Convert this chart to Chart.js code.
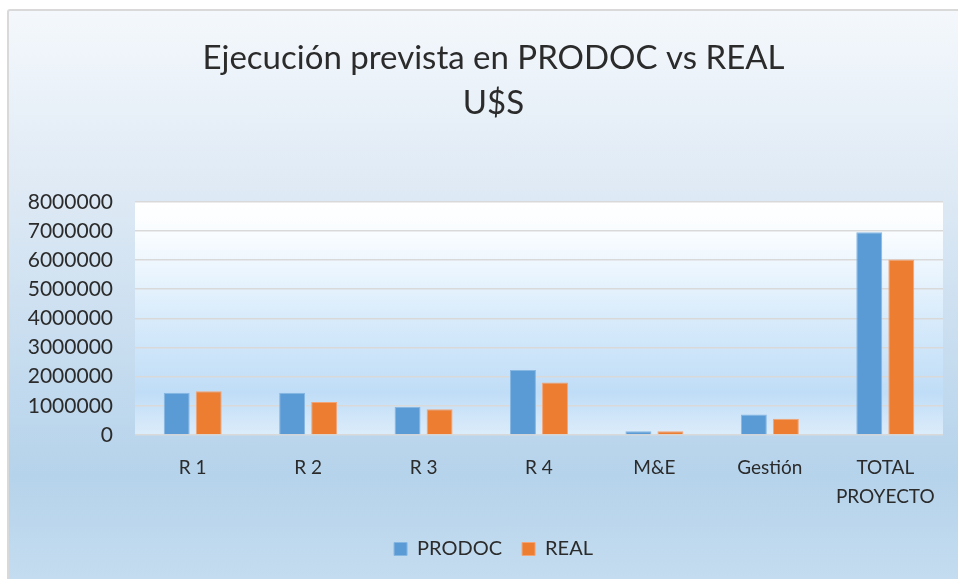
<!DOCTYPE html>
<html>
<head>
<meta charset="utf-8">
<script src="https://cdn.jsdelivr.net/npm/chart.js@4/dist/chart.umd.min.js"></script>
<style>
  html, body { margin: 0; padding: 0; background: #ffffff; }
  #frame {
    position: absolute; left: 7px; top: 9px; width: 960px; height: 580px;
    border: 2px solid #d9d9d9; border-radius: 3px;
    background: linear-gradient(to bottom, #f4f8fc 0%, #dfeaf5 30%, #c6dcef 60%, #b5d3eb 80%, #c6ddf0 100%);
  }
  #wrap { position: absolute; left: 0; top: 0; width: 958px; height: 579px; }
</style>
</head>
<body>
<div id="frame"></div>
<div id="wrap"><canvas id="chart" width="958" height="579"></canvas></div>
<script>
// Données
const categories = ['R 1', 'R 2', 'R 3', 'R 4', 'M&E', 'Gestión', ['TOTAL', 'PROYECTO']];
const prodocValues = [1450000, 1450000, 960000, 2230000, 130000, 700000, 6950000];
const realValues = [1500000, 1130000, 880000, 1800000, 130000, 560000, 6020000];
const yMax = 8000000;
const yStep = 1000000;

const FONT = 'Lato';
const TEXT = '#2b2b2b';
const Y_FONT_SIZE = 21;

const ctx = document.getElementById('chart').getContext('2d');

// Largeur de l'étiquette la plus large de l'axe Y (pour les aligner à droite)
ctx.font = Y_FONT_SIZE + 'px ' + FONT;
const widestY = ctx.measureText(String(yMax)).width;

// Fond dégradé de la zone de tracé
const plotBackground = {
    id: 'plotBackground',
    beforeDraw(chart) {
        const { ctx, chartArea: a } = chart;
        const g = ctx.createLinearGradient(0, a.top, 0, a.bottom);
        g.addColorStop(0, '#ffffff');
        g.addColorStop(0.15, '#f8fcff');
        g.addColorStop(0.5, '#d8ebfb');
        g.addColorStop(0.82, '#c0ddf7');
        g.addColorStop(1, '#dcecfa');
        ctx.save();
        ctx.fillStyle = g;
        ctx.fillRect(a.left, a.top, a.right - a.left, a.bottom - a.top);
        ctx.restore();
    }
};

new Chart(ctx, {
    type: 'bar',
    data: {
        labels: categories,
        datasets: [
            {
                label: 'PRODOC',
                data: prodocValues,
                backgroundColor: '#5b9bd5',
                borderColor: '#86b6e2',
                borderWidth: 1,
                barPercentage: 0.81,
                categoryPercentage: 0.555
            },
            {
                label: 'REAL',
                data: realValues,
                backgroundColor: '#ed7d31',
                borderColor: '#f2a476',
                borderWidth: 1,
                barPercentage: 0.81,
                categoryPercentage: 0.555
            }
        ]
    },
    options: {
        responsive: false,
        animation: false,
        layout: { padding: { left: 44, right: 15, top: 0, bottom: 10 } },
        plugins: {
            title: {
                display: true,
                text: ['Ejecución prevista en PRODOC vs REAL', 'U$S'],
                color: TEXT,
                font: { family: FONT, size: 33, weight: 'normal', lineHeight: 1.36 },
                padding: { top: 36, bottom: 76 }
            },
            legend: {
                position: 'bottom',
                labels: {
                    color: TEXT,
                    font: { family: FONT, size: 20 },
                    boxWidth: 13,
                    boxHeight: 13,
                    padding: 20
                }
            },
            tooltip: { enabled: false }
        },
        scales: {
            x: {
                grid: { display: false },
                border: { display: false },
                ticks: {
                    color: TEXT,
                    font: { family: FONT, size: 19, lineHeight: 1.5 },
                    padding: 11,
                    maxRotation: 0,
                    autoSkip: false
                },
                afterFit(scale) { scale.height = 84; }
            },
            y: {
                min: 0,
                max: yMax,
                grid: { color: '#d9d9d9', lineWidth: 1.5, drawTicks: false },
                border: { display: false },
                ticks: {
                    stepSize: yStep,
                    color: TEXT,
                    font: { family: FONT, size: Y_FONT_SIZE },
                    mirror: true,
                    crossAlign: 'far',
                    padding: -22 - widestY,
                    callback: v => String(v)
                },
                afterFit(scale) { scale.width = 91; }
            }
        }
    },
    plugins: [plotBackground]
});
</script>
</body>
</html>
